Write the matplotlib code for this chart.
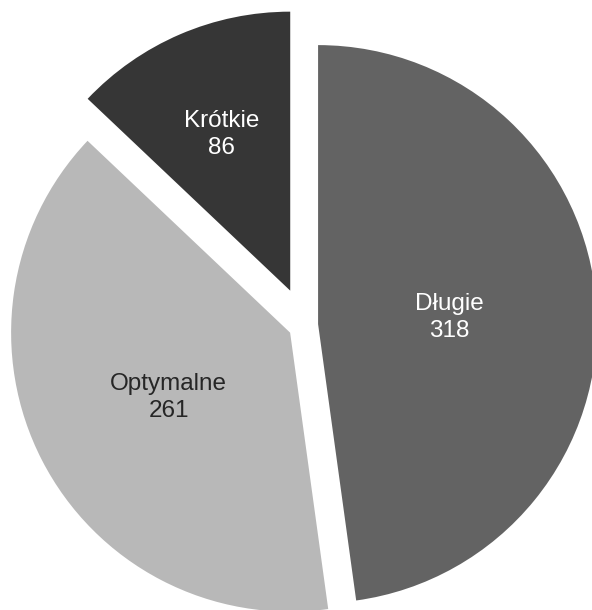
import numpy as np
import matplotlib
matplotlib.use("Agg")
import matplotlib.pyplot as plt

labels = ["Długie", "Optymalne", "Krótkie"]
values = [318, 261, 86]
colors = ["#636363", "#b8b8b8", "#363636"]
text_colors = ["white", "#262626", "white"]
explode = [0.047, 0.06, 0.134]
label_radius = [0.47, 0.49, 0.62]

W, H = 592, 610
R = 279.0            # pie radius in pixels
cx, cy = 305, 325    # pie centre in pixels (from top-left)

fig = plt.figure(figsize=(W / 100, H / 100), dpi=100)
ax = fig.add_axes([0, 0, 1, 1])

wedges, _ = ax.pie(values, colors=colors, explode=explode, startangle=90,
                   counterclock=False, radius=1, center=(0, 0), frame=True)
ax.set_xlim(-cx / R, (W - cx) / R)
ax.set_ylim(-(H - cy) / R, cy / R)
ax.set_aspect("equal")
ax.axis("off")

for w, lab, val, tc, r in zip(wedges, labels, values, text_colors, label_radius):
    mid = np.deg2rad((w.theta1 + w.theta2) / 2)
    x0, y0 = w.center
    ax.text(x0 + r * np.cos(mid), y0 + r * np.sin(mid) - 0.01, f"{lab}\n{val}",
            ha="center", va="center", color=tc, fontsize=17.5,
            family="Liberation Sans", linespacing=1.3)

fig.savefig("out.png", dpi=100)
